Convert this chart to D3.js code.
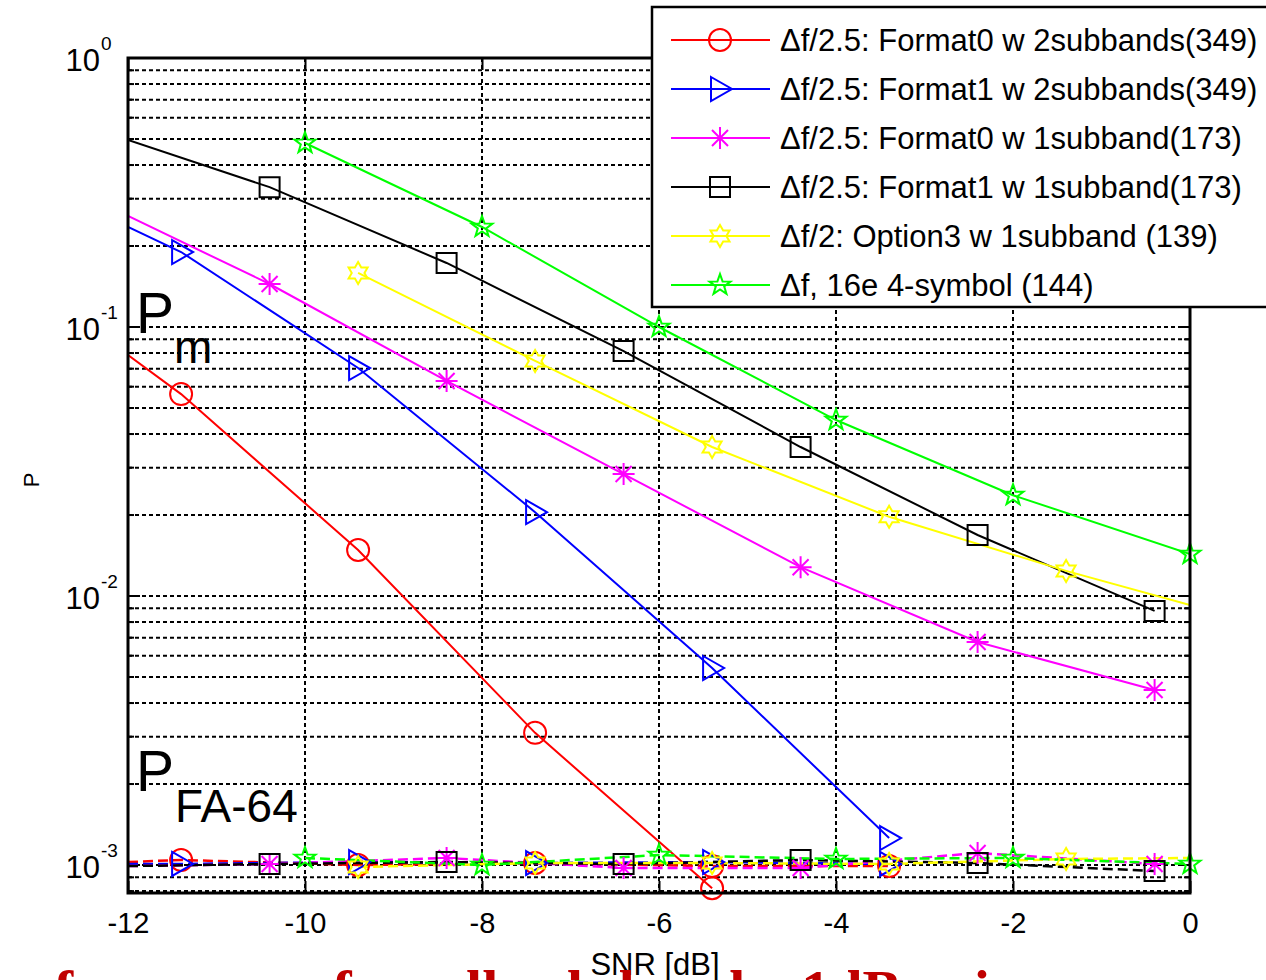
<!DOCTYPE html>
<html>
<head>
<meta charset="utf-8">
<title>Pm and PFA versus SNR</title>
<style>
 html, body { margin: 0; padding: 0; background: #fff; }
 svg { display: block; }
 text { font-family: "Liberation Sans", Arial, Helvetica, sans-serif; fill: #000; }
 .grid line { stroke: #000; stroke-width: 2; stroke-dasharray: 4,3; }
 .frame { fill: none; stroke: #000; stroke-width: 3; }
 .tick-mark { stroke: #000; stroke-width: 2; }
 .pm { fill: none; stroke-width: 2; }
 .pfa { fill: none; stroke-width: 2.5; stroke-dasharray: 10,5; }
 .mk { fill: none; stroke-width: 2; }
</style>
</head>
<body>
<div id="chart"></div>
<script src="https://d3js.org/d3.v7.min.js"></script>
<script>
// ---- data ----
var xTicks = [-12, -10, -8, -6, -4, -2, 0];
var yLabelExp = [0, -1, -2, -3];

var names = [
  "\u0394f/2.5: Format0 w 2subbands(349)",
  "\u0394f/2.5: Format1 w 2subbands(349)",
  "\u0394f/2.5: Format0 w 1subband(173)",
  "\u0394f/2.5: Format1 w 1subband(173)",
  "\u0394f/2: Option3 w 1subband (139)",
  "\u0394f, 16e 4-symbol (144)"
];
var colors = ["#ff0000", "#0000ff", "#ff00ff", "#000000", "#ffff00", "#00ff00"];
var markers = ["circle", "tri", "ast", "square", "hex", "pent"];

// miss probability: marker SNRs and values
var pmSnr = [
  [-11.4, -9.4, -7.4, -5.4],
  [-11.4, -9.4, -7.4, -5.4, -3.4],
  [-10.4, -8.4, -6.4, -4.4, -2.4, -0.4],
  [-10.4, -8.4, -6.4, -4.4, -2.4, -0.4],
  [-9.4, -7.4, -5.4, -3.4, -1.4],
  [-10, -8, -6, -4, -2, 0]
];
var pmVal = [
  [0.0563, 0.01483, 0.0031, 0.00082],
  [0.190, 0.0704, 0.0205, 0.0054, 0.00126],
  [0.1445, 0.0630, 0.0284, 0.0128, 0.00675, 0.00447],
  [0.331, 0.173, 0.0814, 0.0358, 0.01686, 0.0088],
  [0.1588, 0.0748, 0.0358, 0.0197, 0.0124],
  [0.483, 0.2354, 0.100, 0.0451, 0.0237, 0.01433]
];
// where a line runs on to the axis edge without a marker
var pmLead = [[-12, 0.0787], [-12, 0.2354], [-12, 0.2587], [-12, 0.4957], null, null];
var pmTail = [null, null, null, null, [0, 0.00926], null];

// false alarm probability (dashed)
var pfaSnr = [
  [-11.4, -9.4, -7.4, -5.4, -3.4],
  [-11.4, -9.4, -7.4, -5.4, -3.4],
  [-10.4, -8.4, -6.4, -4.4, -2.4, -0.4],
  [-10.4, -8.4, -6.4, -4.4, -2.4, -0.4],
  [-9.4, -7.4, -5.4, -3.4, -1.4],
  [-10, -8, -6, -4, -2, 0]
];
var pfaVal = [
  [1.044e-3, 1.000e-3, 1.017e-3, 0.991e-3, 0.991e-3],
  [1.009e-3, 1.026e-3, 1.017e-3, 1.026e-3, 1.009e-3],
  [1.009e-3, 1.062e-3, 0.975e-3, 0.975e-3, 1.108e-3, 1.009e-3],
  [1.009e-3, 1.026e-3, 1.009e-3, 1.044e-3, 1.017e-3, 0.950e-3],
  [0.983e-3, 1.017e-3, 1.017e-3, 1.009e-3, 1.053e-3],
  [1.062e-3, 1.000e-3, 1.089e-3, 1.053e-3, 1.062e-3, 1.009e-3]
];
var pfaLead = [[-12, 1.026e-3], [-12, 1.009e-3], [-12, 0.991e-3], [-12, 0.991e-3], null, null];
var pfaTail = [null, null, null, null, [0, 1.062e-3], null];

// ---- layout ----
var W = 1266, H = 980;
var pL = 128, pR = 1190, pT = 58, pB = 893;

var x = d3.scaleLinear().domain([-12, 0]).range([pL, pR]);
var y = d3.scaleLog().domain([7.87e-4, 1]).range([pB, pT]);

var svg = d3.select("#chart").append("svg")
  .attr("width", W).attr("height", H);

svg.append("defs").append("clipPath").attr("id", "plotclip")
  .append("rect").attr("x", pL).attr("y", pT)
  .attr("width", pR - pL).attr("height", pB - pT);

// grid
var yGrid = y.ticks().filter(function(v) { return v < 1; });
var grid = svg.append("g").attr("class", "grid");
grid.selectAll(".gy").data(yGrid).enter().append("line")
  .attr("x1", pL).attr("x2", pR)
  .attr("y1", function(d) { return y(d); })
  .attr("y2", function(d) { return y(d); });
grid.selectAll(".gx").data(xTicks.slice(1, -1)).enter().append("line")
  .attr("x1", function(d) { return x(d); })
  .attr("x2", function(d) { return x(d); })
  .attr("y1", pT).attr("y2", pB);

// tick marks inside the box (left/right)
var ticks = svg.append("g");
yGrid.concat([1]).forEach(function(v) {
  var major = Math.abs(Math.log10(v) - Math.round(Math.log10(v))) < 1e-9;
  var len = major ? 12 : 6;
  ticks.append("line").attr("class", "tick-mark")
    .attr("x1", pL).attr("x2", pL + len).attr("y1", y(v)).attr("y2", y(v));
  ticks.append("line").attr("class", "tick-mark")
    .attr("x1", pR).attr("x2", pR - len).attr("y1", y(v)).attr("y2", y(v));
});

// x axis via d3 axis, ticks pointing inward
var xAxis = svg.append("g")
  .attr("transform", "translate(0," + pB + ")")
  .call(d3.axisBottom(x).tickValues(xTicks).tickSizeInner(-12).tickSizeOuter(0)
    .tickPadding(19).tickFormat(function(d) { return String(d); }));
xAxis.select(".domain").remove();
xAxis.selectAll(".tick line").attr("stroke", "#000").attr("stroke-width", 2);
xAxis.selectAll(".tick text")
  .attr("fill", "#000")
  .attr("font-family", null)
  .attr("font-size", null)
  .style("font-size", "29px");
var xTop = svg.append("g")
  .attr("transform", "translate(0," + pT + ")")
  .call(d3.axisTop(x).tickValues(xTicks).tickSizeInner(-12).tickSizeOuter(0).tickFormat(""));
xTop.select(".domain").remove();
xTop.selectAll(".tick line").attr("stroke", "#000").attr("stroke-width", 2);

// y labels 10^k
var yl = svg.append("g");
yLabelExp.forEach(function(e) {
  var yy = y(Math.pow(10, e));
  yl.append("text").attr("x", 100).attr("y", yy + 13)
    .attr("text-anchor", "end").style("font-size", "31px").text("10");
  yl.append("text").attr("x", 101).attr("y", yy - 8)
    .style("font-size", "19px").text(String(e));
});

// axis titles
svg.append("text").attr("x", 655).attr("y", 975)
  .attr("text-anchor", "middle").style("font-size", "31px").text("SNR [dB]");
svg.append("text").attr("transform", "translate(39,480) rotate(-90)")
  .attr("text-anchor", "middle").style("font-size", "22px").text("P");

// annotations inside the plot
svg.append("text").attr("x", 136).attr("y", 333).style("font-size", "57px").text("P");
svg.append("text").attr("x", 174).attr("y", 363).style("font-size", "46px").text("m");
svg.append("text").attr("x", 136).attr("y", 791).style("font-size", "57px").text("P");
svg.append("text").attr("x", 175).attr("y", 822).style("font-size", "46px").text("FA-64");

// ---- marker shapes (MATLAB-like) ----
function starPath(n, R, r) {
  var p = [];
  for (var k = 0; k < 2 * n; k++) {
    var a = -Math.PI / 2 + k * Math.PI / n;
    var rr = k % 2 === 0 ? R : r;
    p.push([rr * Math.cos(a), rr * Math.sin(a)]);
  }
  return "M" + p.map(function(q) { return q[0].toFixed(2) + "," + q[1].toFixed(2); }).join("L") + "Z";
}
var shapes = {
  circle: "M11,0A11,11 0 1,1 -11,0A11,11 0 1,1 11,0Z",
  tri: "M-9,-12L12,0L-9,12Z",
  ast: "M0,-11V11M-11,0H11M-8,-8L8,8M-8,8L8,-8",
  square: "M-10,-10H10V10H-10Z",
  hex: starPath(6, 11, 6.35),
  pent: starPath(5, 11, 4.4)
};

function drawSeries(snr, val, lead, tail, cls) {
  var line = d3.line().x(function(d) { return x(d[0]); }).y(function(d) { return y(d[1]); });
  var lines = svg.append("g").attr("clip-path", "url(#plotclip)");
  var marks = svg.append("g");
  for (var i = 0; i < snr.length; i++) {
    var pts = snr[i].map(function(s, j) { return [s, val[i][j]]; });
    var full = pts.slice();
    if (lead[i]) full.unshift(lead[i]);
    if (tail[i]) full.push(tail[i]);
    lines.append("path").attr("class", cls)
      .attr("stroke", colors[i]).attr("d", line(full));
    marks.selectAll(null).data(pts).enter().append("path")
      .attr("class", "mk").attr("stroke", colors[i])
      .attr("transform", function(d) { return "translate(" + x(d[0]) + "," + y(d[1]) + ")"; })
      .attr("d", shapes[markers[i]]);
  }
}
drawSeries(pmSnr, pmVal, pmLead, pmTail, "pm");
drawSeries(pfaSnr, pfaVal, pfaLead, pfaTail, "pfa");

// frame
svg.append("rect").attr("class", "frame")
  .attr("x", pL).attr("y", pT).attr("width", pR - pL).attr("height", pB - pT);

// legend
var lg = svg.append("g").attr("transform", "translate(652,7)");
lg.append("rect").attr("width", 700).attr("height", 300)
  .attr("fill", "#fff").attr("stroke", "#000").attr("stroke-width", 2.5);
names.forEach(function(n, i) {
  var cy = 33 + i * 49;
  lg.append("line").attr("x1", 19).attr("x2", 118).attr("y1", cy).attr("y2", cy)
    .attr("stroke", colors[i]).attr("stroke-width", 2);
  lg.append("path").attr("class", "mk").attr("stroke", colors[i])
    .attr("transform", "translate(68," + cy + ")").attr("d", shapes[markers[i]]);
  lg.append("text").attr("x", 128).attr("y", cy + 11)
    .style("font-size", "31px").text(n);
});

// clipped slide caption below the figure
svg.append("text").attr("x", -30).attr("y", 1010)
  .style("font-family", "'Liberation Serif', 'DejaVu Serif', serif")
  .style("font-weight", "bold").style("font-size", "58px")
  .style("fill", "#c00000")
  .text("performance of small sub-bands: 1dB gain");
</script>
</body>
</html>
